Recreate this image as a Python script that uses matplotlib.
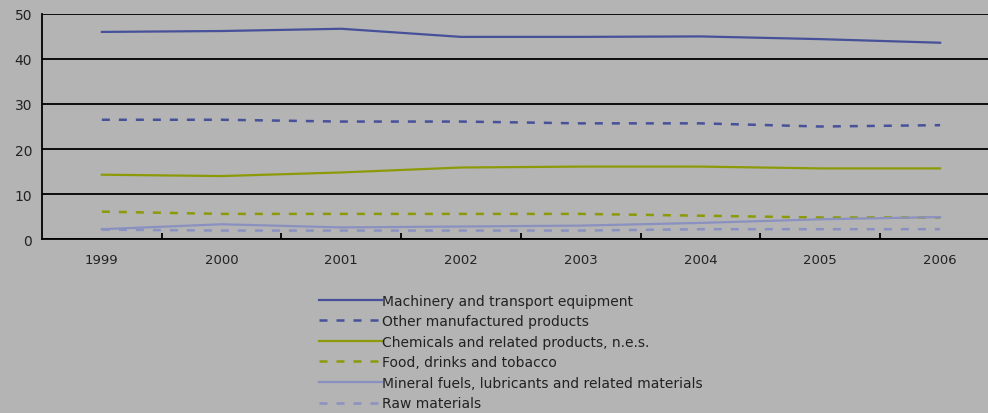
import matplotlib.pyplot as plt

years = ["1999", "2000", "2001", "2002", "2003", "2004", "2005", "2006"]

machinery = [46.0, 46.2, 46.7, 44.9, 44.9, 45.0, 44.4, 43.6]
other_manufactured = [26.5, 26.5, 26.1, 26.1, 25.7, 25.7, 25.0, 25.3]
chemicals = [14.3, 14.0, 14.8, 15.9, 16.1, 16.1, 15.7, 15.7]
food = [6.1, 5.6, 5.6, 5.6, 5.6, 5.2, 4.8, 4.8]
mineral_fuels = [2.2, 3.3, 2.6, 2.8, 3.0, 3.6, 4.4, 4.9]
raw_materials = [2.1, 1.9, 1.9, 1.9, 1.9, 2.2, 2.2, 2.2]

labels = [
    "Machinery and transport equipment",
    "Other manufactured products",
    "Chemicals and related products, n.e.s.",
    "Food, drinks and tobacco",
    "Mineral fuels, lubricants and related materials",
    "Raw materials",
]

BG = "#b4b4b4"
DARK_BLUE = "#46519a"
OLIVE = "#8c9a08"
LIGHT_BLUE = "#8a91c0"
DASH = (3.2, 3.6)

fig = plt.figure(figsize=(9.88, 4.14), dpi=100, facecolor=BG)
ax = fig.add_axes([0.0425, 0.42, 0.9575, 0.544], facecolor=BG)

x = list(range(len(years)))
series = [
    (machinery, DARK_BLUE, None),
    (other_manufactured, DARK_BLUE, DASH),
    (chemicals, OLIVE, None),
    (food, OLIVE, DASH),
    (mineral_fuels, LIGHT_BLUE, None),
    (raw_materials, LIGHT_BLUE, DASH),
]
for (vals, color, dashes), label in zip(series, labels):
    if dashes:
        ax.plot(x, vals, color=color, lw=1.8, dashes=dashes, label=label, zorder=3)
    else:
        ax.plot(x, vals, color=color, lw=1.6, label=label, zorder=3)

ax.set_ylim(0, 50)
ax.set_xlim(-0.5, 7.4)
ax.set_yticks(range(0, 51, 10))
ax.yaxis.grid(True, color="black", lw=1.3)
ax.set_axisbelow(True)

ax.set_xticks(x)
ax.set_xticklabels(years)
ax.set_xticks([i + 0.5 for i in range(7)], minor=True)
ax.tick_params(axis="x", which="major", length=0, pad=10, labelsize=9.5, colors="#222222")
ax.tick_params(axis="x", which="minor", length=4, width=1.3, direction="in", color="black")
ax.tick_params(axis="y", length=0, pad=7, labelsize=10, colors="#222222")

for side in ["top", "right"]:
    ax.spines[side].set_visible(False)
ax.spines["left"].set_linewidth(1.3)
ax.spines["bottom"].set_linewidth(1.3)

leg = fig.legend(
    loc="upper left",
    bbox_to_anchor=(0.323, 0.288),
    frameon=False,
    fontsize=10,
    handlelength=4.5,
    handletextpad=0.02,
    labelspacing=0.47,
    borderaxespad=0,
    borderpad=0,
)
for t in leg.get_texts():
    t.set_color("#222222")

fig.savefig("out.png", dpi=100, facecolor=BG)
